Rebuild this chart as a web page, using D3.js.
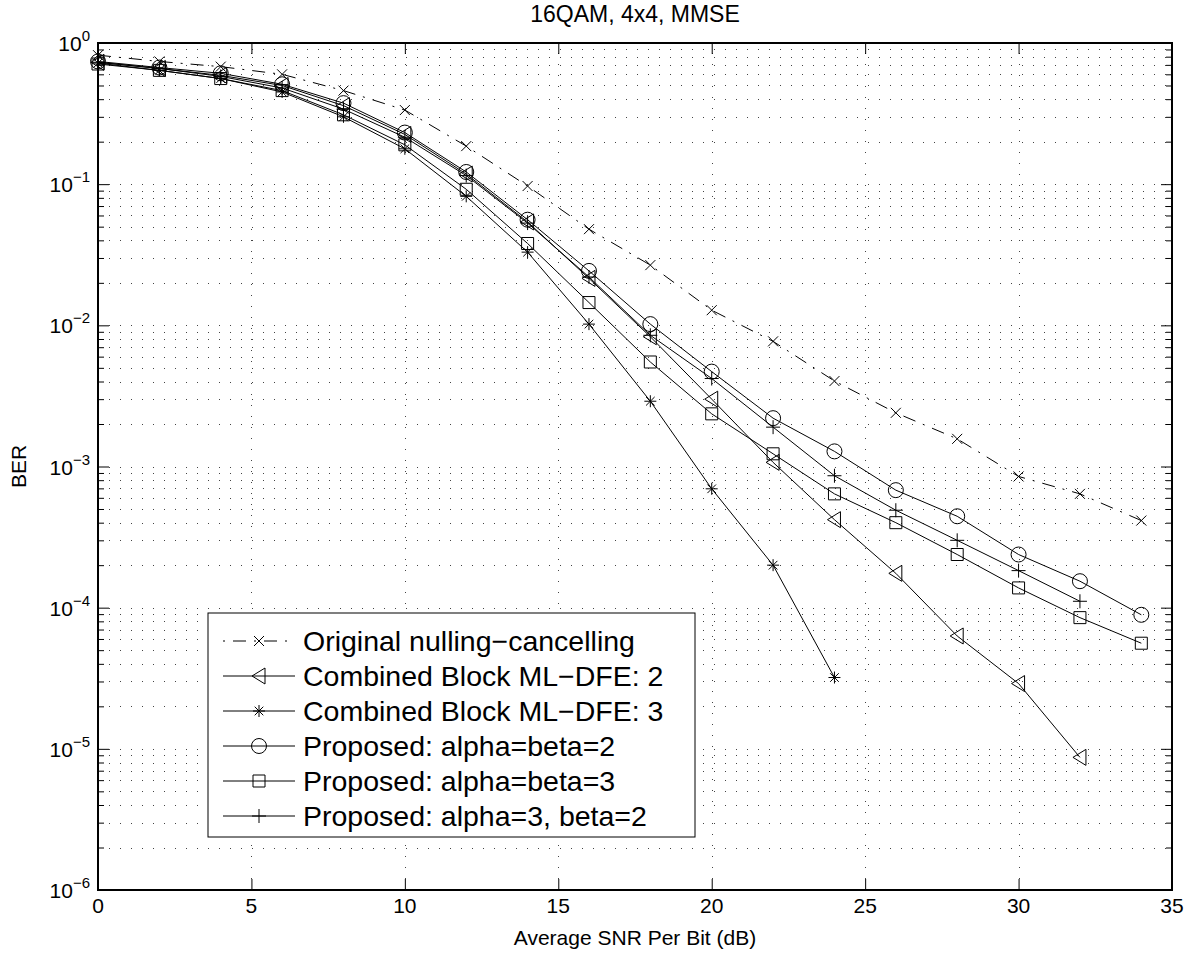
<!DOCTYPE html>
<html>
<head>
<meta charset="utf-8">
<script src="https://cdn.jsdelivr.net/npm/d3@7"></script>
<style>
  body { margin: 0; background: #fff; }
  svg { display: block; }
  text { font-family: "Liberation Sans", Arial, Helvetica, sans-serif; fill: #000; }
</style>
</head>
<body>
<svg id="chart" width="1201" height="958"></svg>
<script>
// SNR points (dB)
const snrDb = [0, 2, 4, 6, 8, 10, 12, 14, 16, 18, 20, 22, 24, 26, 28, 30, 32, 34];

// BER per scheme
const berOriginal = [0.82, 0.74, 0.68, 0.60, 0.46, 0.335, 0.186, 0.097, 0.048, 0.0267, 0.0128, 0.0077, 0.00403, 0.0024, 0.00157, 0.00085, 0.00064, 0.000414];
const berBlockDfe2 = [0.73, 0.66, 0.59, 0.50, 0.36, 0.225, 0.118, 0.054, 0.0215, 0.0083, 0.0030, 0.00107, 0.00042, 0.000175, 6.3e-5, 2.9e-5, 8.7e-6];
const berBlockDfe3 = [0.72, 0.64, 0.56, 0.45, 0.30, 0.178, 0.082, 0.033, 0.0102, 0.0029, 0.000695, 0.0002, 3.2e-5];
const berProposed22 = [0.74, 0.67, 0.61, 0.51, 0.375, 0.232, 0.122, 0.056, 0.0243, 0.0102, 0.0047, 0.0022, 0.00128, 0.00068, 0.000444, 0.000238, 0.000154, 8.9e-5];
const berProposed33 = [0.71, 0.64, 0.56, 0.46, 0.31, 0.19, 0.092, 0.038, 0.0145, 0.0055, 0.00236, 0.00123, 0.00064, 0.00040, 0.000238, 0.000138, 8.5e-5, 5.6e-5];
const berProposed32 = [0.73, 0.66, 0.58, 0.48, 0.34, 0.215, 0.115, 0.053, 0.022, 0.0085, 0.0042, 0.0019, 0.00086, 0.00049, 0.0003, 0.000183, 0.000111];

const seriesNames = [
  "Original nulling\u2212cancelling",
  "Combined Block ML\u2212DFE: 2",
  "Combined Block ML\u2212DFE: 3",
  "Proposed: alpha=beta=2",
  "Proposed: alpha=beta=3",
  "Proposed: alpha=3, beta=2"
];
const seriesValues = [berOriginal, berBlockDfe2, berBlockDfe3, berProposed22, berProposed33, berProposed32];
const seriesMarkers = ["x", "triangle", "star", "circle", "square", "plus"];

const xTickValues = [0, 5, 10, 15, 20, 25, 30, 35];
const yDecades = [-6, -5, -4, -3, -2, -1, 0];

const titleText = "16QAM, 4x4, MMSE";
const xLabelText = "Average SNR Per Bit (dB)";
const yLabelText = "BER";

// ---- layout ----
const plot = { left: 98, right: 1172, top: 43, bottom: 890 };
const svg = d3.select("#chart");

const x = d3.scaleLinear().domain([0, 35]).range([plot.left, plot.right]);
const y = d3.scaleLog().domain([1e-6, 1]).range([plot.bottom, plot.top]);

const majorY = yDecades.map(k => Math.pow(10, k));
const minorY = [];
yDecades.slice(0, -1).forEach(k => {
  for (let m = 2; m <= 9; m++) minorY.push(m * Math.pow(10, k));
});

// ---- dotted grid ----
const grid = svg.append("g").attr("stroke", "#444").attr("stroke-width", 1)
  .attr("stroke-dasharray", "1,10").attr("shape-rendering", "crispEdges");
grid.selectAll("line.vg").data(xTickValues.filter(v => v > 0 && v < 35)).join("line")
  .attr("x1", d => Math.round(x(d)) + 0.5).attr("x2", d => Math.round(x(d)) + 0.5)
  .attr("y1", plot.bottom).attr("y2", plot.top);
grid.selectAll("line.hg").data(majorY.concat(minorY).filter(v => v > 1e-6 && v < 1)).join("line")
  .attr("x1", plot.left).attr("x2", plot.right)
  .attr("y1", d => Math.round(y(d)) + 0.5).attr("y2", d => Math.round(y(d)) + 0.5);

// ---- axes (inward ticks on all four sides) ----
function styleAxis(g) {
  g.select(".domain").remove();
  g.selectAll(".tick line").attr("stroke", "#000").attr("stroke-width", 1);
  g.selectAll(".tick text").remove();
}
svg.append("g").attr("transform", `translate(0,${plot.bottom})`)
  .call(d3.axisBottom(x).tickValues(xTickValues).tickSize(-11).tickFormat("")).call(styleAxis);
svg.append("g").attr("transform", `translate(0,${plot.top})`)
  .call(d3.axisTop(x).tickValues(xTickValues).tickSize(-11).tickFormat("")).call(styleAxis);
svg.append("g").attr("transform", `translate(${plot.left},0)`)
  .call(d3.axisLeft(y).tickValues(majorY).tickSize(-11).tickFormat("")).call(styleAxis);
svg.append("g").attr("transform", `translate(${plot.left},0)`)
  .call(d3.axisLeft(y).tickValues(minorY).tickSize(-6).tickFormat("")).call(styleAxis);
svg.append("g").attr("transform", `translate(${plot.right},0)`)
  .call(d3.axisRight(y).tickValues(majorY).tickSize(-11).tickFormat("")).call(styleAxis);
svg.append("g").attr("transform", `translate(${plot.right},0)`)
  .call(d3.axisRight(y).tickValues(minorY).tickSize(-6).tickFormat("")).call(styleAxis);

// axis box
svg.append("rect").attr("x", plot.left).attr("y", plot.top)
  .attr("width", plot.right - plot.left).attr("height", plot.bottom - plot.top)
  .attr("fill", "none").attr("stroke", "#000").attr("stroke-width", 2);

// tick labels
svg.append("g").selectAll("text").data(xTickValues).join("text")
  .attr("x", d => x(d)).attr("y", plot.bottom + 23)
  .attr("text-anchor", "middle").attr("font-size", 21).text(d => d);

const yLab = svg.append("g").selectAll("text").data(yDecades).join("text")
  .attr("x", plot.left - 8).attr("y", d => y(Math.pow(10, d)) + 8)
  .attr("text-anchor", "end").attr("font-size", 21);
yLab.append("tspan").text("10");
yLab.append("tspan").attr("dy", -10).attr("font-size", 15)
  .text(d => d === 0 ? "0" : "\u2212" + Math.abs(d));

// title and axis labels
svg.append("text").attr("x", (plot.left + plot.right) / 2).attr("y", 22)
  .attr("text-anchor", "middle").attr("font-size", 23).text(titleText);
svg.append("text").attr("x", (plot.left + plot.right) / 2).attr("y", plot.bottom + 55)
  .attr("text-anchor", "middle").attr("font-size", 21).text(xLabelText);
svg.append("text").attr("transform", `translate(26,${(plot.top + plot.bottom) / 2}) rotate(-90)`)
  .attr("text-anchor", "middle").attr("font-size", 21).text(yLabelText);

// ---- marker shapes ----
function markerPath(kind) {
  switch (kind) {
    case "x": { const a = 5; return `M${-a},${-a}L${a},${a}M${-a},${a}L${a},${-a}`; }
    case "plus": { const a = 7; return `M${-a},0L${a},0M0,${-a}L0,${a}`; }
    case "star": { const a = 6, b = 4.3; return `M${-a},0L${a},0M0,${-a}L0,${a}M${-b},${-b}L${b},${b}M${-b},${b}L${b},${-b}`; }
    case "circle": { const r = 7.5; return `M${r},0A${r},${r} 0 1,1 ${-r},0A${r},${r} 0 1,1 ${r},0Z`; }
    case "square": { const a = 6; return `M${-a},${-a}H${a}V${a}H${-a}Z`; }
    case "triangle": return "M-7,0L6,-8L6,8Z";
  }
}

// ---- curves ----
const line = d3.line().x(d => x(d[0])).y(d => y(d[1]));
const curves = svg.append("g");
seriesValues.forEach((vals, i) => {
  const pts = vals.map((v, j) => [snrDb[j], v]);
  const g = curves.append("g");
  g.append("path").attr("d", line(pts)).attr("fill", "none").attr("stroke", "#000")
    .attr("stroke-width", 1).attr("stroke-dasharray", i === 0 ? "13,8,2,8" : null);
  g.selectAll("path.m").data(pts).join("path").attr("class", "m")
    .attr("transform", d => `translate(${x(d[0])},${y(d[1])})`)
    .attr("d", markerPath(seriesMarkers[i]))
    .attr("fill", "none").attr("stroke", "#000").attr("stroke-width", 1);
});

// ---- legend ----
const leg = { x: 208, y: 613, w: 487, h: 224, row0: 641, rowStep: 35 };
const lg = svg.append("g");
lg.append("rect").attr("x", leg.x).attr("y", leg.y).attr("width", leg.w).attr("height", leg.h)
  .attr("fill", "#fff").attr("stroke", "#000").attr("stroke-width", 1);
seriesNames.forEach((name, i) => {
  const cy = leg.row0 + i * leg.rowStep;
  lg.append("line").attr("x1", leg.x + 15).attr("x2", leg.x + 87).attr("y1", cy).attr("y2", cy)
    .attr("stroke", "#000").attr("stroke-width", 1)
    .attr("stroke-dasharray", i === 0 ? "2,8,13,8" : null);
  lg.append("path").attr("transform", `translate(${leg.x + 51},${cy})`)
    .attr("d", markerPath(seriesMarkers[i])).attr("fill", i === 0 ? "#fff" : "none")
    .attr("stroke", "#000").attr("stroke-width", 1);
  lg.append("text").attr("x", leg.x + 95).attr("y", cy + 10).attr("font-size", 28.5).text(name);
});
</script>
</body>
</html>
